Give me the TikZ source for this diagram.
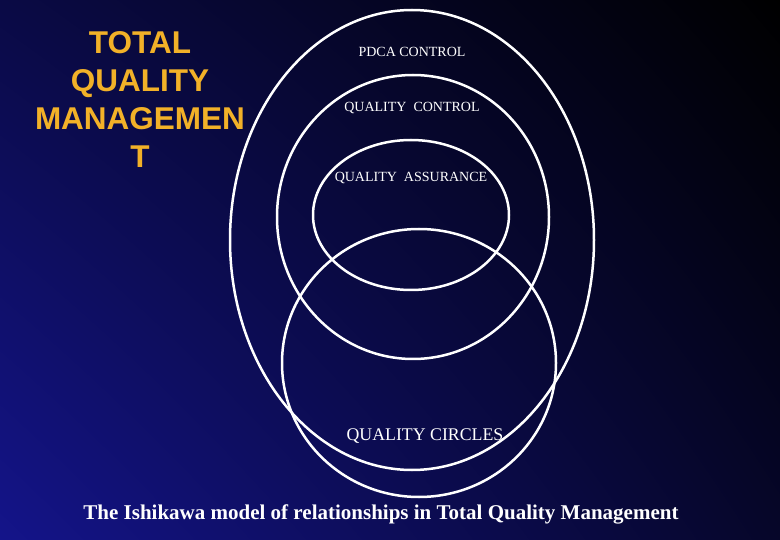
\documentclass[tikz,border=0pt]{standalone}
\usepackage{fontspec}
\usetikzlibrary{shadings}
\setmainfont{Liberation Serif}
\newfontfamily\arialf{Liberation Sans}
\definecolor{ttl}{HTML}{F2B128}
\definecolor{navy}{HTML}{14148A}
\begin{document}
\begin{tikzpicture}[x=1pt,y=-1pt,
  ring/.style={draw=white,line width=2.5pt},
  lbl/.style={text=white,font=\fontsize{14}{16}\selectfont}]
\useasboundingbox (0,0) rectangle (780,540);
\shade[lower left=navy,lower right=black!70!navy,upper left=black!50!navy,upper right=black] (0,0) rectangle (780,540);
\draw[ring] (412,240) ellipse [x radius=182,y radius=230];
\draw[ring] (413,217) ellipse [x radius=136,y radius=142];
\draw[ring] (411,215) ellipse [x radius=98,y radius=75];
\draw[ring] (419,363) ellipse [x radius=137,y radius=134];
\node[text=ttl,align=center,font=\arialf\bfseries\fontsize{31.5}{38}\selectfont] (t) at (140,100) {TOTAL\\QUALITY\\MANAGEMEN\\T};
\node[lbl] (a) at (412,52) {PDCA CONTROL};
\node[lbl] (b) at (412,108) {QUALITY\ \ CONTROL};
\node[lbl] (c) at (411,178) {QUALITY\ \ ASSURANCE};
\node[lbl,font=\fontsize{17.8}{19}\selectfont] (d) at (425,436) {QUALITY CIRCLES};
\node[text=white,font=\bfseries\fontsize{21}{22}\selectfont] (e) at (381,514) {The Ishikawa model of relationships in Total Quality Management};
\end{tikzpicture}
\end{document}
